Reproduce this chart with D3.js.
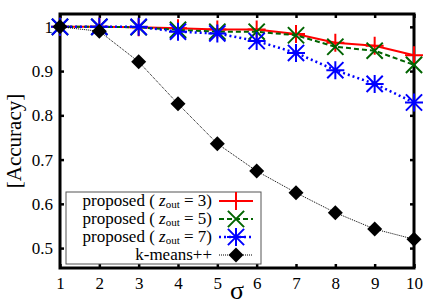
<!DOCTYPE html>
<html>
<head>
<meta charset="utf-8">
<script src="https://cdn.jsdelivr.net/npm/d3@7"></script>
<style>
  body { margin: 0; background: #fff; }
  svg text { font-family: "Liberation Serif", "DejaVu Serif", serif; }
</style>
</head>
<body>
<div id="chart"></div>
<script>
const sigma = [1, 2, 3, 4, 5, 6, 7, 8, 9, 10];
const prop3 = [1.0, 1.0, 0.999, 0.997, 0.994, 0.994, 0.984, 0.964, 0.957, 0.936];
const prop5 = [1.0, 1.0, 0.999, 0.993, 0.989, 0.989, 0.981, 0.955, 0.946, 0.914];
const prop7 = [1.0, 1.0, 1.0, 0.989, 0.985, 0.968, 0.941, 0.902, 0.871, 0.829];
const kmeans = [1.0, 0.99, 0.921, 0.826, 0.736, 0.674, 0.625, 0.58, 0.543, 0.52];
const yTicks = [0.5, 0.6, 0.7, 0.8, 0.9, 1];

const series = [
    { name: "3", values: prop3, color: "#ff0000", dash: null, width: 2, marker: "plus" },
    { name: "5", values: prop5, color: "#006400", dash: "5,3", width: 2, marker: "cross" },
    { name: "7", values: prop7, color: "#0000ff", dash: "2,3", width: 2.5, marker: "star" },
    { name: "k-means++", values: kmeans, color: "#000", dash: "1,1", width: 1, marker: "diamond" }
];

const width = 436, height = 305;
const margin = { left: 60, right: 22, top: 14, bottom: 37 };

const svg = d3.select("#chart").append("svg")
    .attr("width", width)
    .attr("height", height);

const x = d3.scaleLinear().domain([1, 10]).range([margin.left, width - margin.right]);
const y = d3.scaleLinear().domain([0.455, 1.029]).range([height - margin.bottom, margin.top]);

// axes with inward ticks
svg.append("g")
    .attr("transform", `translate(0,${height - margin.bottom})`)
    .call(d3.axisBottom(x).tickValues(sigma).tickSize(-4).tickPadding(9).tickFormat(d3.format("d")));
svg.append("g")
    .attr("transform", `translate(0,${margin.top})`)
    .call(d3.axisTop(x).tickValues(sigma).tickSize(-4).tickFormat(""));
svg.append("g")
    .attr("transform", `translate(${margin.left},0)`)
    .call(d3.axisLeft(y).tickValues(yTicks).tickSize(-4).tickPadding(7).tickFormat(d => d === 1 ? "1" : d3.format(".1f")(d)));
svg.append("g")
    .attr("transform", `translate(${width - margin.right},0)`)
    .call(d3.axisRight(y).tickValues(yTicks).tickSize(-4).tickFormat(""));

svg.selectAll(".domain").remove();
svg.selectAll(".tick line").attr("stroke", "#000").attr("stroke-width", 2.5);
svg.selectAll(".tick text").attr("fill", "#000").style("font-size", "17px");

svg.append("rect")
    .attr("x", margin.left).attr("y", margin.top)
    .attr("width", width - margin.left - margin.right)
    .attr("height", height - margin.top - margin.bottom)
    .attr("fill", "none").attr("stroke", "#000").attr("stroke-width", 3);

// axis titles
svg.append("text")
    .attr("transform", `translate(16,${(margin.top + height - margin.bottom) / 2}) rotate(-90)`)
    .attr("text-anchor", "middle")
    .attr("dominant-baseline", "middle")
    .style("font-size", "21px")
    .text("[Accuracy]");
svg.append("text")
    .attr("x", (margin.left + width - margin.right) / 2)
    .attr("y", 299)
    .attr("text-anchor", "middle")
    .style("font-size", "26px")
    .text("σ");

function drawMarker(g, type, cx, cy, color) {
    const s = 9;
    if (type === "plus") {
        g.append("path").attr("d", `M${cx - s},${cy}H${cx + s}M${cx},${cy - s}V${cy + s}`)
            .attr("stroke", color).attr("stroke-width", 2).attr("fill", "none");
    } else if (type === "cross") {
        const d = s * 0.9;
        g.append("path").attr("d", `M${cx - d},${cy - d}L${cx + d},${cy + d}M${cx - d},${cy + d}L${cx + d},${cy - d}`)
            .attr("stroke", color).attr("stroke-width", 2).attr("fill", "none");
    } else if (type === "star") {
        const d = s * 0.9;
        g.append("path").attr("d", `M${cx - s},${cy}H${cx + s}M${cx},${cy - s}V${cy + s}M${cx - d},${cy - d}L${cx + d},${cy + d}M${cx - d},${cy + d}L${cx + d},${cy - d}`)
            .attr("stroke", color).attr("stroke-width", 2).attr("fill", "none");
    } else {
        const r = 7.5;
        g.append("path").attr("d", `M${cx},${cy - r}L${cx + r},${cy}L${cx},${cy + r}L${cx - r},${cy}Z`)
            .attr("fill", color);
    }
}

const line = d3.line().x((d, i) => x(sigma[i])).y(d => y(d));

// legend box
const lg = svg.append("g");
lg.append("rect")
    .attr("x", 66).attr("y", 192).attr("width", 195).attr("height", 72)
    .attr("fill", "#fff").attr("stroke", "#555").attr("stroke-width", 1);

series.forEach((s, k) => {
    const g = svg.append("g");
    g.append("path")
        .attr("d", line(s.values))
        .attr("fill", "none")
        .attr("stroke", s.color)
        .attr("stroke-width", s.width)
        .attr("stroke-dasharray", s.dash);
    s.values.forEach((v, i) => drawMarker(g, s.marker, x(sigma[i]), y(v), s.color));

    const ly = 201 + k * 18;
    lg.append("line")
        .attr("x1", 219).attr("x2", 253).attr("y1", ly).attr("y2", ly)
        .attr("stroke", s.color).attr("stroke-width", s.width)
        .attr("stroke-dasharray", s.dash);
    drawMarker(lg, s.marker, 236, ly, s.color);

    const t = lg.append("text")
        .attr("x", 212).attr("y", ly + 5)
        .attr("text-anchor", "end")
        .style("font-size", "17px");
    if (s.marker === "diamond") {
        t.text(s.name);
    } else {
        t.append("tspan").text("proposed ( ");
        t.append("tspan").style("font-style", "italic").text("z");
        t.append("tspan").attr("dy", 2).style("font-size", "11px").text("out");
        t.append("tspan").attr("dy", -2).text(" = " + s.name + ")");
    }
});
</script>
</body>
</html>
